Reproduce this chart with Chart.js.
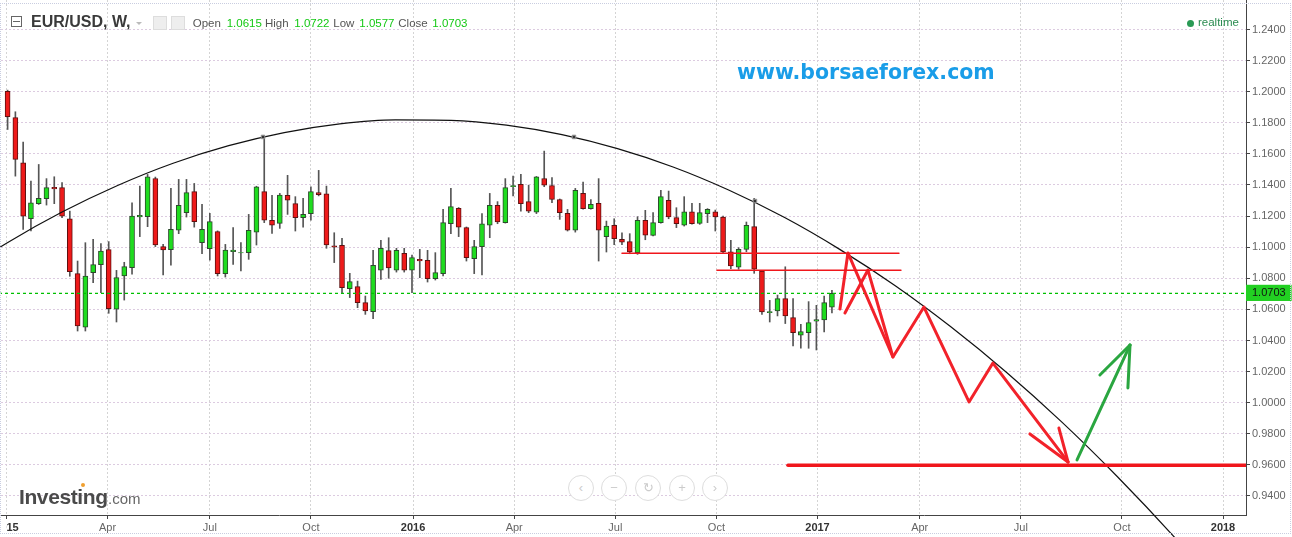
<!DOCTYPE html>
<html lang="en">
<head>
<meta charset="UTF-8" />
<title>EUR/USD weekly</title>
<script src="https://cdn.jsdelivr.net/npm/chart.js"></script>
<style>
  html, body { margin: 0; padding: 0; background: #fff; }
  body { width: 1292px; height: 537px; position: relative; overflow: hidden; font-family: Arial, "Liberation Sans", sans-serif; }
  #chart { position: absolute; left: -43px; top: 0; }
  .abs { position: absolute; white-space: nowrap; }
  .lbl { font-size: 11.5px; line-height: 11.5px; color: #555; }
  .val { font-size: 11.5px; line-height: 11.5px; color: #14c814; }
  .frame { position: absolute; left: 0; top: 3px; width: 1289px; height: 529px; border: 1px dotted #c9cde0; pointer-events: none; }
  .nav { position: absolute; width: 24px; height: 24px; border: 1px solid #ddd; border-radius: 50%; top: 475px;
         color: #ccc; font-size: 13px; line-height: 24px; text-align: center; background: #fff; }
</style>
</head>
<body>
<canvas id="chart" width="1335" height="537"></canvas>

<!-- left edge of the time axis hides the start of the first label -->
<div class="abs" style="left:0;top:517px;width:6px;height:16px;background:#fff;"></div>
<div class="frame"></div>

<!-- header -->
<div class="abs" style="left:11px;top:16px;width:9px;height:9px;border:1px solid #666;"></div>
<div class="abs" style="left:13px;top:21px;width:7px;height:1px;background:#666;"></div>
<div class="abs" style="left:31px;top:13.8px;font-size:16px;line-height:16px;font-weight:bold;color:#3a3a3a;">EUR/USD, W,</div>
<div class="abs" style="left:136px;top:22px;width:0;height:0;border-left:3px solid transparent;border-right:3px solid transparent;border-top:3px solid #bbb;"></div>
<div class="abs" style="left:153px;top:16px;width:12px;height:12px;background:#eee;border:1px solid #ddd;"></div>
<div class="abs" style="left:171px;top:16px;width:12px;height:12px;background:#eee;border:1px solid #ddd;"></div>
<div class="abs lbl" style="left:192.7px;top:17.6px;">Open</div>
<div class="abs val" style="left:226.7px;top:17.6px;">1.0615</div>
<div class="abs lbl" style="left:265px;top:17.6px;">High</div>
<div class="abs val" style="left:294.3px;top:17.6px;">1.0722</div>
<div class="abs lbl" style="left:333.3px;top:17.6px;">Low</div>
<div class="abs val" style="left:359.3px;top:17.6px;">1.0577</div>
<div class="abs lbl" style="left:398.3px;top:17.6px;">Close</div>
<div class="abs val" style="left:432.3px;top:17.6px;">1.0703</div>

<div class="abs" style="left:1187px;top:20px;width:7px;height:7px;border-radius:50%;background:#2a9a55;"></div>
<div class="abs" style="left:1198px;top:17.3px;font-size:11.5px;line-height:11.5px;color:#2a8a50;">realtime</div>

<div class="abs" style="left:737px;top:62px;font-family:'DejaVu Sans',sans-serif;font-weight:bold;font-size:20.5px;line-height:20.5px;color:#1a9de8;">www.borsaeforex.com</div>

<!-- watermark logo -->
<div class="abs" style="left:19px;top:485.5px;font-size:21px;line-height:21px;font-weight:bold;color:#4a4a4a;letter-spacing:-0.4px;">Investing</div>
<div class="abs" style="left:81px;top:483px;width:4px;height:4px;border-radius:50%;background:#f0a030;"></div>
<div class="abs" style="left:108px;top:490.6px;font-size:15px;line-height:15px;color:#666;">.com</div>

<div class="nav" style="left:568px;">&lsaquo;</div>
<div class="nav" style="left:601px;">&minus;</div>
<div class="nav" style="left:635px;">&#8635;</div>
<div class="nav" style="left:669px;">+</div>
<div class="nav" style="left:702px;">&rsaquo;</div>

<script>
// weekly EUR/USD bars (Jan 2015 .. Jan 2017)
const firstBarDay = 1;   // days after 1 Jan 2015
const barStep = 7;

const opens = [
  1.2003, 1.1833, 1.1543, 1.1183, 1.1280, 1.1312, 1.1385, 1.1383, 1.1183, 1.0830,
  1.0485, 1.0836, 1.0888, 1.0984, 1.0601, 1.0815, 1.0869, 1.1194, 1.1196, 1.1442,
  1.1004, 1.0984, 1.1110, 1.1222, 1.1357, 1.1029, 1.0991, 1.1100, 1.0830, 1.0971,
  1.0963, 1.0965, 1.1097, 1.1357, 1.1173, 1.1153, 1.1333, 1.1280, 1.1190, 1.1216,
  1.1351, 1.1344, 1.1009, 1.1012, 1.0734, 1.0746, 1.0644, 1.0586, 1.0853, 1.0978,
  1.0853, 1.0960, 1.0853, 1.0922, 1.0915, 1.0798, 1.0830, 1.1151, 1.1250, 1.1126,
  1.0926, 1.1004, 1.1142, 1.1269, 1.1158, 1.1389, 1.1404, 1.1293, 1.1226, 1.1442,
  1.1397, 1.1307, 1.1218, 1.1110, 1.1346, 1.1248, 1.1282, 1.1068, 1.1140, 1.1050,
  1.1036, 1.0965, 1.1173, 1.1076, 1.1158, 1.1301, 1.1190, 1.1142, 1.1228, 1.1153,
  1.1216, 1.1228, 1.1194, 1.0971, 1.0872, 1.0986, 1.1132, 1.0847, 1.0579, 1.0590,
  1.0669, 1.0547, 1.0435, 1.0451, 1.0525, 1.0532, 1.0615
];
const highs = [
  1.2010, 1.1871, 1.1676, 1.1425, 1.1532, 1.1441, 1.1453, 1.1415, 1.1232, 1.0911,
  1.1029, 1.1050, 1.1023, 1.1036, 1.0851, 1.0903, 1.1286, 1.1393, 1.1468, 1.1451,
  1.1018, 1.1378, 1.1436, 1.1436, 1.1410, 1.1275, 1.1218, 1.1105, 1.1018, 1.1126,
  1.1029, 1.1211, 1.1392, 1.1714, 1.1333, 1.1346, 1.1462, 1.1325, 1.1314, 1.1389,
  1.1494, 1.1393, 1.1093, 1.1057, 1.0832, 1.0782, 1.0686, 1.0980, 1.1044, 1.1061,
  1.0993, 1.0993, 1.0950, 1.0986, 1.0980, 1.0965, 1.1243, 1.1378, 1.1255, 1.1130,
  1.1044, 1.1216, 1.1346, 1.1293, 1.1441, 1.1457, 1.1468, 1.1399, 1.1455, 1.1618,
  1.1447, 1.1310, 1.1243, 1.1378, 1.1419, 1.1307, 1.1441, 1.1168, 1.1183, 1.1093,
  1.1087, 1.1196, 1.1237, 1.1222, 1.1365, 1.1361, 1.1254, 1.1325, 1.1282, 1.1282,
  1.1248, 1.1239, 1.1200, 1.1044, 1.0997, 1.1162, 1.1314, 1.0850, 1.0658, 1.0692,
  1.0874, 1.0669, 1.0504, 1.0650, 1.0626, 1.0686, 1.0722
];
const lows = [
  1.1757, 1.1457, 1.1115, 1.1104, 1.1275, 1.1271, 1.1280, 1.1190, 1.0813, 1.0461,
  1.0461, 1.0772, 1.0708, 1.0575, 1.0519, 1.0660, 1.0826, 1.1068, 1.1132, 1.1004,
  1.0821, 1.0885, 1.1087, 1.1194, 1.1129, 1.0958, 1.0917, 1.0815, 1.0808, 1.0890,
  1.0847, 1.0922, 1.1014, 1.1158, 1.1089, 1.1121, 1.1211, 1.1104, 1.1129, 1.1174,
  1.1330, 1.0993, 1.0901, 1.0708, 1.0676, 1.0611, 1.0568, 1.0541, 1.0793, 1.0800,
  1.0840, 1.0840, 1.0708, 1.0804, 1.0776, 1.0789, 1.0815, 1.1087, 1.1068, 1.0911,
  1.0830, 1.0821, 1.1061, 1.1151, 1.1155, 1.1329, 1.1232, 1.1222, 1.1216, 1.1389,
  1.1286, 1.1179, 1.1104, 1.1097, 1.1245, 1.1245, 1.0911, 1.0969, 1.1016, 1.1016,
  1.0958, 1.0954, 1.1048, 1.1072, 1.1155, 1.1183, 1.1126, 1.1136, 1.1148, 1.1147,
  1.1158, 1.1104, 1.0963, 1.0862, 1.0858, 1.0971, 1.0832, 1.0568, 1.0519, 1.0558,
  1.0509, 1.0365, 1.0350, 1.0350, 1.0339, 1.0455, 1.0577
];
const closes = [
  1.1839, 1.1565, 1.1200, 1.1286, 1.1314, 1.1383, 1.1374, 1.1200, 1.0843, 1.0493,
  1.0815, 1.0888, 1.0975, 1.0605, 1.0804, 1.0875, 1.1200, 1.1205, 1.1453, 1.1014,
  1.0982, 1.1115, 1.1269, 1.1351, 1.1164, 1.1115, 1.1164, 1.0830, 1.0982, 1.0982,
  1.0966, 1.1108, 1.1389, 1.1174, 1.1142, 1.1335, 1.1303, 1.1190, 1.1211, 1.1357,
  1.1338, 1.1014, 1.1000, 1.0740, 1.0779, 1.0644, 1.0590, 1.0883, 1.0993, 1.0866,
  1.0980, 1.0853, 1.0933, 1.0911, 1.0798, 1.0836, 1.1158, 1.1261, 1.1129, 1.0933,
  1.1004, 1.1151, 1.1269, 1.1162, 1.1383, 1.1397, 1.1280, 1.1232, 1.1453, 1.1399,
  1.1307, 1.1222, 1.1110, 1.1365, 1.1248, 1.1275, 1.1110, 1.1136, 1.1055, 1.1033,
  1.0969, 1.1173, 1.1078, 1.1158, 1.1325, 1.1194, 1.1151, 1.1228, 1.1151, 1.1222,
  1.1243, 1.1194, 1.0969, 1.0879, 1.0986, 1.1140, 1.0858, 1.0583, 1.0586, 1.0669,
  1.0558, 1.0451, 1.0457, 1.0515, 1.0534, 1.0644, 1.0703
];
const lastClose = 1.0703;

// axes
const xMin = -44.55, xMax = 1115.7;
const yMin = 0.92778, yMax = 1.25897;
const tickDays = [0, 91, 183, 274, 366, 457, 548, 639, 730, 822, 913, 1004, 1095];
const tickLabels = ['2015', 'Apr', 'Jul', 'Oct', '2016', 'Apr', 'Jul', 'Oct', '2017', 'Apr', 'Jul', 'Oct', '2018'];
const yTicks = [0.94, 0.96, 0.98, 1.00, 1.02, 1.04, 1.06, 1.08, 1.10, 1.12, 1.14, 1.16, 1.18, 1.20, 1.22, 1.24];

// drawn arc (day, price)
const arcDays   = [-50, 0, 50, 100, 150, 200, 250, 300, 350, 400, 450, 500, 550, 600, 650, 700, 750, 800, 850, 900, 950, 1000, 1050, 1100];
const arcValues = [1.0797, 1.1026, 1.1226, 1.1397, 1.1540, 1.1653, 1.1737, 1.1793, 1.1819, 1.1816, 1.1785, 1.1724,
                   1.1634, 1.1516, 1.1368, 1.1192, 1.0986, 1.0752, 1.0488, 1.0196, 0.9875, 0.9524, 0.9145, 0.8736];
const arcMarkDays   = [230.9, 510.8, 673.7];
const arcMarkValues = [1.1709, 1.1709, 1.1297];

// hand drawn projection (day, price)
const redZigzag   = [[750.2, 1.0603], [757.4, 1.0963], [797.9, 1.0294], [825.8, 1.0615], [866.4, 1.0005], [887.9, 1.0255], [955.5, 0.9619]];
const redZigzag2  = [[754.7, 1.0577], [775.4, 1.0853], [797.9, 1.0294]];
const redHeadL    = [[921.2, 0.9799], [955.5, 0.9619]];
const redHeadR    = [[947.3, 0.9837], [955.5, 0.9619]];
const greenShaft  = [[963.6, 0.9632], [1011.3, 1.0371]];
const greenHeadL  = [[984.2, 1.0178], [1011.3, 1.0371]];
const greenHeadR  = [[1009.4, 1.0095], [1011.3, 1.0371]];
const resistance1 = [[554, 1.0961], [803.3, 1.0961]];
const resistance2 = [[639.5, 1.0851], [805.1, 1.0851]];
const support     = [[703.4, 0.9597], [1115.7, 0.9597]];

const barX = i => firstBarDay + i * barStep;
const up = i => closes[i] >= opens[i];
const pts = arr => arr.map(p => ({ x: p[0], y: p[1] }));

function drawn(arr, color, width) {
  return {
    type: 'line', data: pts(arr), borderColor: color, borderWidth: width,
    pointRadius: 0, tension: 0, borderCapStyle: 'round', borderJoinStyle: 'round', order: 0
  };
}

const FONT = 'Arial, "Liberation Sans", sans-serif';
const gridH = '#dccbe0';
const gridV = '#d4d4d4';
const isYear = i => /^\d/.test(tickLabels[i]);

new Chart(document.getElementById('chart'), {
  type: 'bar',
  data: {
    datasets: [
      {
        type: 'bar', label: 'wicks',
        data: opens.map((o, i) => ({ x: barX(i), y: [lows[i], highs[i]] })),
        backgroundColor: '#555', barThickness: 1, grouped: false, order: 6
      },
      {
        type: 'bar', label: 'bodies',
        data: opens.map((o, i) => ({ x: barX(i), y: [o, closes[i]] })),
        backgroundColor: c => up(c.dataIndex) ? '#1fdc1f' : '#ee1a1a',
        borderColor: c => up(c.dataIndex) ? '#2b4a2b' : '#5e1010',
        borderWidth: 1, borderSkipped: false, barThickness: 5, grouped: false, order: 5
      },
      {
        type: 'line', label: 'last',
        data: [{ x: xMin, y: lastClose }, { x: xMax, y: lastClose }],
        borderColor: '#00c000', borderWidth: 1.2, borderDash: [3, 3], pointRadius: 0, order: 3
      },
      {
        type: 'line', label: 'arc',
        data: arcDays.map((d, i) => ({ x: d, y: arcValues[i] })),
        borderColor: '#111', borderWidth: 1.2, pointRadius: 0, cubicInterpolationMode: 'monotone',
        clip: { left: 0, top: 0, right: 0, bottom: 30 }, order: 2
      },
      {
        type: 'line', label: 'arc points',
        data: arcMarkDays.map((d, i) => ({ x: d, y: arcMarkValues[i] })),
        showLine: false, pointStyle: 'rect', pointRadius: 2.5,
        pointBackgroundColor: '#333', pointBorderColor: '#999', pointBorderWidth: 1, order: 1
      },
      drawn(resistance1, '#f0161c', 1.5),
      drawn(resistance2, '#f0161c', 1.5),
      drawn(support, '#f0161c', 3.5),
      drawn(redZigzag, '#f2222a', 3),
      drawn(redZigzag2, '#f2222a', 3),
      drawn(redHeadL, '#f2222a', 3),
      drawn(redHeadR, '#f2222a', 3),
      drawn(greenShaft, '#2aa640', 3),
      drawn(greenHeadL, '#2aa640', 3),
      drawn(greenHeadR, '#2aa640', 3)
    ]
  },
  options: {
    responsive: false,
    maintainAspectRatio: false,
    devicePixelRatio: 1,
    animation: false,
    events: [],
    layout: { padding: 0, autoPadding: false },
    plugins: { legend: { display: false }, tooltip: { enabled: false } },
    scales: {
      x: {
        type: 'linear', min: xMin, max: xMax, offset: false, bounds: 'data',
        afterBuildTicks: s => { s.ticks = tickDays.map(v => ({ value: v })); },
        afterFit: s => { s.height = 22; s.paddingLeft = 0; s.paddingRight = 0; },
        ticks: {
          autoSkip: false, maxRotation: 0, minRotation: 0, padding: 2,
          callback: (v, i) => tickLabels[i],
          color: c => isYear(c.index) ? '#333' : '#666',
          font: c => ({ family: FONT, size: 11, weight: isYear(c.index) ? 'bold' : 'normal' })
        },
        grid: { offset: false, color: gridV, tickLength: 4, tickColor: '#444' },
        border: { color: '#444', width: 1, dash: [2, 2] }
      },
      y: {
        type: 'linear', position: 'right', min: yMin, max: yMax, beginAtZero: false, bounds: 'data',
        afterBuildTicks: s => {
          s.ticks = yTicks.concat([lastClose]).sort((a, b) => a - b).map(v => ({ value: v }));
        },
        afterFit: s => { s.width = 46; s.paddingTop = 0; s.paddingBottom = 0; },
        ticks: {
          autoSkip: false, padding: 2,
          callback: v => Number(v).toFixed(4),
          color: c => c.tick && c.tick.value === lastClose ? '#111' : '#666',
          font: { family: FONT, size: 11 },
          showLabelBackdrop: c => !!(c.tick && c.tick.value === lastClose),
          backdropColor: '#22d022',
          backdropPadding: { left: 6, right: 6, top: 2, bottom: 1 }
        },
        grid: {
          color: c => c.tick && c.tick.value === lastClose ? 'rgba(0,0,0,0)' : gridH,
          tickLength: 4, tickColor: '#444'
        },
        border: { color: '#444', width: 1, dash: [2, 2] }
      }
    }
  }
});
</script>
</body>
</html>
